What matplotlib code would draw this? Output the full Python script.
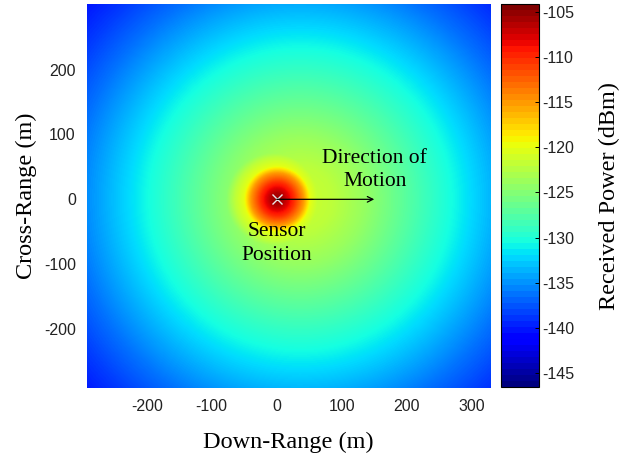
import numpy as np
import matplotlib
matplotlib.use("Agg")
import matplotlib.pyplot as plt
from matplotlib.cm import ScalarMappable
from matplotlib.colors import Normalize

plt.rcParams['axes.unicode_minus'] = False

# ---- data ----
# outer field: received power vs distance from the footprint centre (m, dBm)
outer_r = [0, 50, 100, 150, 200, 235, 300, 350, 400, 450, 500]
outer_p = [-121.0, -122.0, -124.0, -126.5, -129.0, -130.7, -134.0, -136.5, -138.7, -140.6, -142.5]
outer_cx = 35.0
# inner peak: received power vs distance from the sensor (m, dBm)
inner_r = [0, 10, 20, 26, 35, 41, 51, 65, 80, 120]
inner_p = [-104.8, -106.0, -108.5, -110.0, -113.0, -115.0, -120.0, -122.0, -125.0, -135.0]
sensor_xy = (0.0, 0.0)
arrow_len = 150
clim = (-146.6, -104.1)
cbar_ticks = [-145, -140, -135, -130, -125, -120, -115, -110, -105]
x_ticks = [-200, -100, 0, 100, 200, 300]
y_ticks = [-200, -100, 0, 100, 200]
xlim = (-292, 328)
ylim = (-291, 301)

# ---- field on grid ----
xs = np.linspace(xlim[0], xlim[1], 400)
ys = np.linspace(ylim[0], ylim[1], 400)
X, Y = np.meshgrid(xs, ys)
r_out = np.hypot(X - outer_cx, Y)
r_in = np.hypot(X - sensor_xy[0], Y - sensor_xy[1])
P = np.maximum(np.interp(r_out, outer_r, outer_p),
               np.interp(r_in, inner_r, inner_p, right=-200.0))

fig = plt.figure(figsize=(6.25, 4.63), dpi=100)
ax = fig.add_axes([0.139, 0.162, 0.645, 0.829])
cax = fig.add_axes([0.8016, 0.164, 0.061, 0.827])

im = ax.imshow(P, extent=[xlim[0], xlim[1], ylim[0], ylim[1]], origin='lower',
               cmap='jet', vmin=clim[0], vmax=clim[1], aspect='auto', interpolation='bilinear')
ax.set_xlim(xlim)
ax.set_ylim(ylim)
ax.set_xticks(x_ticks)
ax.set_yticks(y_ticks)
for s in ax.spines.values():
    s.set_visible(False)
ax.tick_params(length=0, pad=8, labelsize=11.5)
for lab in ax.get_xticklabels() + ax.get_yticklabels():
    lab.set_fontfamily('Liberation Sans')
    lab.set_color('#222222')

serif = 'Liberation Serif'
ax.set_xlabel('Down-Range (m)', fontfamily=serif, fontsize=17.5, labelpad=13)
ax.set_ylabel('Cross-Range (m)', fontfamily=serif, fontsize=17.5, labelpad=5)

ax.plot([sensor_xy[0]], [sensor_xy[1]], marker='x', color='#e8e8e8', markersize=7, mew=1.0)
ax.annotate('', xy=(sensor_xy[0] + arrow_len, sensor_xy[1]), xytext=sensor_xy,
            arrowprops=dict(arrowstyle='->', color='black', lw=0.9, shrinkA=0, shrinkB=0,
                            mutation_scale=10))
ax.text(151, 45, 'Direction of\nMotion', ha='center', va='center', fontfamily=serif,
        fontsize=15.5, linespacing=1.3)
ax.text(0, -68, 'Sensor\nPosition', ha='center', va='center', fontfamily=serif,
        fontsize=15.5, linespacing=1.3)

sm = ScalarMappable(norm=Normalize(*clim), cmap=plt.get_cmap('jet', 64))
cb = fig.colorbar(sm, cax=cax, ticks=cbar_ticks)
cb.outline.set_linewidth(0.8)
cax.tick_params(direction='in', length=3, width=0.7, labelsize=11.5, pad=2)
for lab in cax.get_yticklabels():
    lab.set_fontfamily('Liberation Sans')
    lab.set_color('#222222')
cb.set_label('Received Power (dBm)', fontfamily=serif, fontsize=17.5, labelpad=18)

fig.savefig('out.png', dpi=100)
